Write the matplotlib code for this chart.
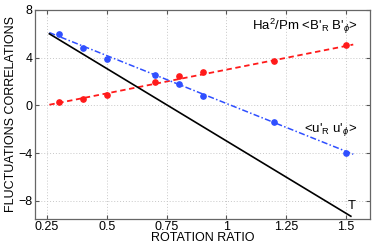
import matplotlib
matplotlib.use("Agg")
import matplotlib.pyplot as plt

plt.rcParams['font.family'] = ['Liberation Sans', 'DejaVu Sans']
plt.rcParams['mathtext.fontset'] = 'custom'
plt.rcParams['mathtext.rm'] = 'Liberation Sans'
plt.rcParams['mathtext.it'] = 'Liberation Sans:italic'

ratio = [0.3, 0.4, 0.5, 0.7, 0.8, 0.9, 1.2, 1.5]
maxwell = [0.3, 0.5, 0.86, 1.99, 2.5, 2.83, 3.73, 5.09]
reynolds = [5.96, 4.8, 3.92, 2.53, 1.77, 0.76, -1.36, -3.96]

fit_x = [0.26, 1.53]
maxwell_fit = [0.05, 5.1]
reynolds_fit = [6.1, -4.1]
total_x = [0.26, 1.52]
total = [6.0, -9.3]

xticks = [0.25, 0.5, 0.75, 1.0, 1.25, 1.5]
xticklabels = ['0.25', '0.5', '0.75', '1', '1.25', '1.5']
yticks = [-8, -4, 0, 4, 8]

red = '#ff1a1a'
blue = '#2f4fff'

fig = plt.figure(figsize=(3.74, 2.49), dpi=100)
ax = fig.add_axes([0.0936, 0.122, 0.8957, 0.838])

ax.plot(fit_x, maxwell_fit, color=red, lw=1.3, ls=(0, (3, 2)))
ax.plot(ratio, maxwell, 'o', color=red, ms=3.8, mec=red)
ax.plot(fit_x, reynolds_fit, color=blue, lw=1.1, ls=(0, (4, 1.5, 1, 1.5)))
ax.plot(ratio, reynolds, 'o', color=blue, ms=3.8, mec=blue)
ax.plot(total_x, total, color='black', lw=1.2)

ax.set_xlim(0.2, 1.6)
ax.set_ylim(-9.5, 8)
ax.set_xticks(xticks)
ax.set_xticklabels(xticklabels)
ax.set_yticks(yticks)
ax.tick_params(direction='in', length=3, labelsize=9, top=True, right=True,
               color='#555555', pad=2)
ax.grid(True, ls=(0, (1, 2)), color='#c8c8c8', lw=0.7)
for s in ax.spines.values():
    s.set_color('#666666')
    s.set_linewidth(0.9)

ax.set_xlabel('ROTATION RATIO', fontsize=9, labelpad=-1)
ax.set_ylabel('FLUCTUATIONS CORRELATIONS', fontsize=9, labelpad=1)

ax.text(1.108, 6.3, r"Ha$^2$/Pm <B'$_\mathrm{R}$ B'$_\phi$>", fontsize=9.5, va='baseline')
ax.text(1.325, -2.2, r"<u'$_\mathrm{R}$ u'$_\phi$>", fontsize=9.5, va='baseline')
ax.text(1.505, -8.7, "T", fontsize=9.5, va='baseline')

fig.savefig('out.png', dpi=100)
